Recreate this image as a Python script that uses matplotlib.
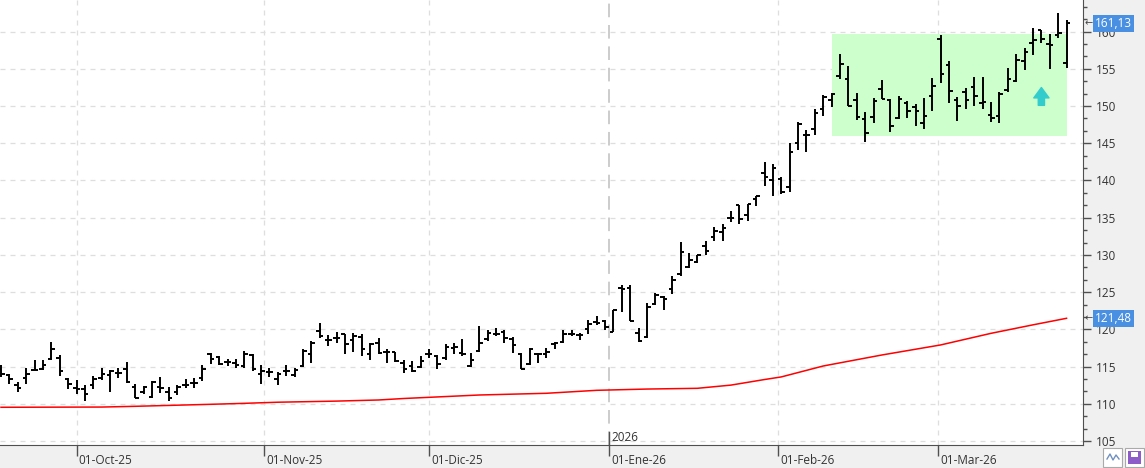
import matplotlib
matplotlib.use("Agg")
import matplotlib.pyplot as plt
import matplotlib.transforms as mtransforms
from matplotlib.patches import Rectangle
from matplotlib.ticker import MultipleLocator
import numpy as np
import pandas as pd

# daily OHLC, 18-Sep-2025 .. 23-Mar-2026 (US trading days)
opens = [114.6, 113.88, 112.45, 113.43, 114.56, 114.69, 116.03, 116.12, 113.35, 112.09,
         112.0, 112.54, 113.43, 113.88, 114.15, 114.6, 112.22, 111.55, 110.88, 112.22,
         111.64, 111.64, 112.54, 112.76, 113.5, 116.64, 116.32, 115.65, 115.52, 115.07,
         116.55, 113.95, 114.26, 113.28, 114.4, 113.86, 115.07, 116.64, 119.77, 118.52,
         118.88, 119.32, 118.52, 118.97, 116.64, 118.2, 116.99, 116.95, 115.51, 115.06,
         114.93, 116.63, 116.41, 116.09, 117.53, 116.86, 115.06, 117.08, 118.65, 119.32,
         119.68, 118.65, 116.72, 115.29, 116.72, 116.72, 117.98, 118.33, 119.32, 119.19,
         119.99, 121.02, 121.05, 119.7, 125.57, 125.53, 119.53, 118.94, 123.42, 124.32,
         125.44, 127.46, 128.35, 129.02, 131.26, 132.38, 133.06, 134.98, 136.64, 135.3,
         137.45, 141.0, 140.11, 140.2, 139.12, 145.03, 146.15, 146.92, 149.6, 150.86,
         154.0, 153.64, 150.86, 148.31, 148.53, 152.29, 150.86, 148.39, 150.41, 149.87,
         147.72, 151.31, 159.01, 155.56, 150.86, 151.89, 152.56, 150.41, 148.84, 148.71,
         152.11, 153.41, 156.01, 158.48, 160.18, 158.39, 159.6, 155.79]
highs = [115.23, 114.02, 112.9, 114.82, 115.81, 115.94, 118.36, 116.57, 113.48, 113.12,
         112.45, 113.79, 114.82, 114.47, 114.78, 115.59, 112.67, 112.36, 112.99, 113.57,
         112.22, 112.45, 113.26, 113.43, 115.2, 116.77, 116.41, 115.96, 115.96, 117.08,
         116.64, 115.2, 114.84, 114.26, 115.2, 114.84, 117.31, 118.43, 120.89, 119.23,
         119.68, 119.41, 119.55, 119.41, 118.2, 118.88, 117.3, 116.99, 115.83, 115.74,
         116.41, 117.3, 116.54, 117.98, 118.2, 118.65, 116.86, 120.44, 119.86, 120.22,
         119.86, 118.96, 116.86, 117.53, 116.86, 117.53, 118.33, 119.86, 119.86, 119.54,
         121.2, 121.78, 121.27, 122.66, 125.98, 125.98, 120.15, 123.56, 124.9, 124.54,
         127.23, 131.8, 130.23, 130.05, 131.85, 133.73, 134.18, 135.88, 136.77, 136.86,
         137.98, 142.48, 142.26, 140.46, 145.03, 147.86, 146.83, 149.6, 151.44, 151.75,
         157.04, 155.34, 151.75, 149.2, 151.08, 153.55, 150.99, 151.4, 150.63, 150.32,
         151.08, 153.77, 159.6, 156.1, 151.22, 152.43, 153.91, 153.91, 150.55, 151.85,
         155.12, 157.0, 157.8, 160.49, 160.27, 159.73, 162.51, 161.52]
lows = [113.57, 112.67, 111.64, 112.67, 114.47, 114.47, 115.94, 113.7, 112.0, 111.33,
        110.43, 112.0, 113.21, 111.55, 113.43, 112.81, 110.79, 111.33, 110.79, 111.46,
        110.43, 111.2, 112.09, 112.09, 113.05, 115.29, 115.2, 115.07, 114.84, 114.84,
        114.4, 112.69, 113.59, 112.51, 113.72, 113.59, 114.93, 115.43, 118.79, 117.76,
        118.2, 116.64, 116.99, 116.41, 115.83, 116.73, 115.51, 115.6, 114.17, 114.26,
        114.75, 116.09, 114.62, 115.83, 116.72, 116.41, 114.97, 116.99, 118.42, 119.1,
        118.2, 116.77, 114.62, 115.2, 115.51, 116.09, 117.3, 118.2, 119.1, 118.51,
        119.32, 120.57, 119.93, 119.7, 122.3, 121.09, 118.36, 118.85, 123.2, 122.62,
        124.77, 127.23, 128.26, 128.89, 129.92, 131.85, 131.85, 134.4, 134.18, 134.62,
        136.55, 139.21, 137.87, 138.22, 138.4, 144.14, 143.78, 146.07, 148.62, 149.87,
        153.64, 149.96, 148.08, 145.12, 147.72, 150.95, 146.47, 148.26, 148.39, 147.37,
        146.92, 149.29, 153.1, 150.41, 147.95, 149.6, 149.96, 149.6, 147.86, 147.72,
        151.85, 153.19, 154.8, 156.91, 158.48, 155.0, 159.15, 155.12]
closes = [114.0, 113.35, 112.09, 114.02, 114.56, 115.23, 117.29, 114.38, 112.67, 112.0,
          111.33, 113.35, 114.02, 114.4, 114.15, 112.9, 110.79, 112.22, 112.9, 112.09,
          110.75, 112.31, 112.54, 112.81, 114.62, 115.96, 115.29, 115.65, 115.16, 116.64,
          114.62, 114.4, 114.26, 114.04, 114.4, 114.49, 117.08, 118.11, 119.1, 118.52,
          118.88, 117.98, 119.1, 117.31, 117.98, 116.86, 116.99, 115.74, 114.62, 114.39,
          115.74, 116.63, 115.38, 117.66, 117.62, 116.63, 115.83, 118.11, 119.54, 119.41,
          118.87, 117.84, 114.62, 117.3, 116.72, 116.99, 118.2, 119.41, 119.32, 119.19,
          120.66, 120.89, 120.29, 122.62, 125.44, 121.09, 118.49, 122.97, 124.63, 124.1,
          126.56, 130.37, 129.25, 129.92, 130.5, 133.19, 133.64, 134.98, 134.85, 136.86,
          137.85, 140.46, 141.67, 138.4, 143.78, 147.63, 146.15, 149.07, 151.17, 151.62,
          155.7, 149.96, 148.53, 146.38, 150.72, 150.95, 147.27, 150.95, 149.38, 149.29,
          148.62, 152.65, 154.35, 151.98, 149.96, 150.86, 151.31, 150.5, 148.39, 151.62,
          153.64, 156.15, 157.27, 158.92, 159.06, 158.25, 159.82, 161.13]

# moving average (red line), read at some bars
ma_idx = [0, 12, 16, 21, 25, 29, 33, 40, 45, 48, 57, 65, 71, 77, 83, 87, 91, 93, 98, 105, 112, 118, 123, 127]
ma_vals = [109.52, 109.55, 109.65, 109.8, 109.92, 110.05, 110.2, 110.35, 110.5, 110.7, 111.17, 111.4,
           111.8, 111.97, 112.07, 112.5, 113.25, 113.6, 115.07, 116.55, 117.9, 119.46, 120.6, 121.48]

month_starts = ['2025-10-01', '2025-11-01', '2025-12-01', '2026-01-01', '2026-02-01', '2026-03-01']
month_labels = ['01-Oct-25', '01-Nov-25', '01-Dic-25', '01-Ene-26', '01-Feb-26', '01-Mar-26']
y_ticks = [105, 110, 115, 120, 125, 130, 135, 140, 145, 150, 155, 160]

# zone box and signal arrow
zone_bars = (99, 127)
zone_prices = (146.0, 159.7)
arrow_bar = 124
arrow_prices = (150.1, 152.5)

dates = pd.bdate_range('2025-09-18', '2026-03-23')
holidays = pd.to_datetime(['2025-11-27', '2025-12-25', '2026-01-01', '2026-01-19', '2026-02-16'])
dates = dates[~dates.isin(holidays)]

# month start position on the trading-day axis (calendar interpolation)
tick_pos = []
for m in pd.to_datetime(month_starts):
    n = dates.searchsorted(m)
    if dates[n] == m:
        tick_pos.append(float(n))
    else:
        frac = (m - dates[n - 1]).days / (dates[n] - dates[n - 1]).days
        tick_pos.append(n - 1 + frac)

plt.rcParams['font.family'] = ['Open Sans', 'DejaVu Sans']

W, H = 1145, 468
fig = plt.figure(figsize=(W / 100, H / 100), dpi=100, facecolor='#f0f0f0')
ax = fig.add_axes([0, 23 / H, 1083 / W, 445 / H])
ax.set_facecolor('white')

x = np.arange(len(closes))
ax.set_xlim(-0.12, 128.96)
ax.set_ylim(104.45, 164.26)

grid_kw = dict(color='#dedede', lw=0.9, dashes=(4, 4), zorder=0.5)
for v in y_ticks:
    ax.axhline(v, **grid_kw)
for i, p in enumerate(tick_pos):
    if month_labels[i] == '01-Ene-26':
        ax.axvline(p, color='#cccccc', lw=1.4, dashes=(7, 4), zorder=0.5)
    else:
        ax.axvline(p, **grid_kw)

ax.add_patch(Rectangle((zone_bars[0], zone_prices[0]), zone_bars[1] - zone_bars[0],
                       zone_prices[1] - zone_prices[0], fc='#ccffcc', ec='none', zorder=1))

ax.plot(ma_idx, ma_vals, color='#ff0000', lw=1.1, zorder=2)

bar_kw = dict(color='black', lw=1.4, capstyle='butt', zorder=3)
ax.vlines(x, lows, highs, **bar_kw)
ax.hlines(opens, x - 0.42, x, **bar_kw)
ax.hlines(closes, x, x + 0.42, **bar_kw)

ax.annotate('', xy=(arrow_bar, arrow_prices[1]), xytext=(arrow_bar, arrow_prices[0]),
            arrowprops=dict(arrowstyle='simple,head_length=0.75,head_width=1.1,tail_width=0.45',
                            mutation_scale=10, color='#33cccc', shrinkA=0, shrinkB=0), zorder=4)

# axes / spines
for s in ['top', 'left']:
    ax.spines[s].set_visible(False)
ax.spines['right'].set_color('#505050')
ax.spines['bottom'].set_color('#505050')
ax.yaxis.tick_right()
ax.set_yticks(y_ticks)
ax.set_yticklabels([str(v) for v in y_ticks])
ax.yaxis.set_minor_locator(MultipleLocator(5 / 3))
ax.tick_params(axis='y', which='major', length=6, width=1, color='#505050', labelsize=8.5,
               labelcolor='#333333', pad=3)
ax.tick_params(axis='y', which='minor', length=3, width=1, color='#505050')
ax.set_xticks(tick_pos)
ax.set_xticklabels([''] * len(tick_pos))
ax.tick_params(axis='x', length=8, width=1, color='#505050', direction='out')

lab_tr = mtransforms.offset_copy(ax.get_xaxis_transform(), fig=fig, x=2, y=-15, units='dots')
for p, lab in zip(tick_pos, month_labels):
    ax.text(p, 0, lab, transform=lab_tr, ha='left', va='center', fontsize=8.5,
            color='#333333', clip_on=False)

# year marker
jan = tick_pos[3]
ax.plot([jan, jan], [0, 0.03], transform=ax.get_xaxis_transform(), color='#505050', lw=1, zorder=3)
yr_tr = mtransforms.offset_copy(ax.get_xaxis_transform(), fig=fig, x=2, y=1, units='dots')
ax.text(jan, 0, '2026', transform=yr_tr, ha='left', va='bottom', fontsize=8.5, color='#333333')

# last value tags on the price axis
tag_tr = mtransforms.offset_copy(mtransforms.blended_transform_factory(ax.transAxes, ax.transData),
                                 fig=fig, x=12, y=0, units='dots')
arr_tr = mtransforms.offset_copy(mtransforms.blended_transform_factory(ax.transAxes, ax.transData),
                                 fig=fig, x=2, y=0, units='dots')
for val in [closes[-1], ma_vals[-1]]:
    ax.text(1, val, f'{val:.2f}'.replace('.', ','), transform=tag_tr, ha='left', va='center',
            fontsize=8.5, color='white', clip_on=False, zorder=10,
            bbox=dict(boxstyle='square,pad=0.18', fc='#4a90e2', ec='none'))
    ax.text(1, val, '←', transform=arr_tr, ha='left', va='center', fontsize=7,
            color='#444444', clip_on=False, zorder=10, family='DejaVu Sans')

# small toolbar icons in the corner
fig.patches.append(Rectangle((1103 / W, 1 / H), 19 / W, 19 / H, transform=fig.transFigure,
                             fc='white', ec='#aaaaaa', lw=0.8))
fig.lines.append(plt.Line2D([1107 / W, 1110 / W, 1113 / W, 1116 / W, 1119 / W],
                            [9 / H, 14 / H, 8 / H, 13 / H, 9 / H], transform=fig.transFigure,
                            color='#7090c0', lw=1))
fig.patches.append(Rectangle((1125 / W, 1 / H), 19 / W, 19 / H, transform=fig.transFigure,
                             fc='white', ec='#aaaaaa', lw=0.8))
fig.patches.append(Rectangle((1128 / W, 4 / H), 13 / W, 13 / H, transform=fig.transFigure,
                             fc='#8e5cc8', ec='none'))
fig.patches.append(Rectangle((1131 / W, 11 / H), 7 / W, 5 / H, transform=fig.transFigure,
                             fc='white', ec='none'))

fig.savefig('out.png', dpi=100, facecolor=fig.get_facecolor())
